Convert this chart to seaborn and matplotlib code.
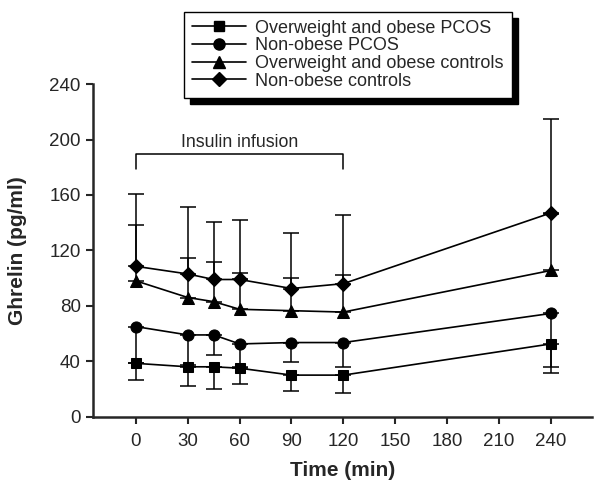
import numpy as np
import pandas as pd
import seaborn as sns
import matplotlib
matplotlib.use("Agg")
import matplotlib.pyplot as plt

# ---- data ----
time = [0, 30, 45, 60, 90, 120, 240]
series_names = ["Overweight and obese PCOS", "Non-obese PCOS",
                "Overweight and obese controls", "Non-obese controls"]
ow_pcos = [38.5, 36, 36, 35, 30, 30, 52.5]
ow_pcos_err_low = [26.5, 22, 20, 23.5, 18.5, 17, 31.5]
no_pcos = [65, 59, 59, 52.5, 53.5, 53.5, 74.5]
no_pcos_err_low = [39, 37, 44.5, 36, 39.5, 36, 35.5]
ow_ctrl = [98, 86, 83, 77.5, 76.5, 75.5, 105.5]
ow_ctrl_err_high = [138.5, 114.5, 111.5, 104, 100, 102, 146]
no_ctrl = [108.5, 103, 99, 99, 92.5, 96, 147]
no_ctrl_err_high = [160.5, 151.5, 140.5, 142, 132.5, 145.5, 215]
x_ticks = [0, 30, 60, 90, 120, 150, 180, 210, 240]
y_ticks = [0, 40, 80, 120, 160, 200, 240]

values = [ow_pcos, no_pcos, ow_ctrl, no_ctrl]
df = pd.DataFrame({
    "Time": time * 4,
    "Ghrelin": sum(values, []),
    "Group": sum([[n] * len(time) for n in series_names], []),
})

sns.set_theme(style="ticks")
plt.rcParams["font.family"] = ["Liberation Sans", "DejaVu Sans"]

fig = plt.figure(figsize=(5.94, 4.82), dpi=100)
ax = fig.add_axes([0.157, 0.1355, 0.84, 0.690])

marker_map = dict(zip(series_names, ["s", "o", "^", "D"]))
size_map = {"s": 7, "o": 8, "^": 9, "D": 7}

# error bars (one-sided)
k = dict(fmt="none", ecolor="black", elinewidth=1.1, capsize=5.5, capthick=1.1, zorder=2)
ax.errorbar(time, ow_pcos, yerr=[np.array(ow_pcos) - np.array(ow_pcos_err_low), np.zeros(len(time))], **k)
ax.errorbar(time, no_pcos, yerr=[np.array(no_pcos) - np.array(no_pcos_err_low), np.zeros(len(time))], **k)
ax.errorbar(time, ow_ctrl, yerr=[np.zeros(len(time)), np.array(ow_ctrl_err_high) - np.array(ow_ctrl)], **k)
ax.errorbar(time, no_ctrl, yerr=[np.zeros(len(time)), np.array(no_ctrl_err_high) - np.array(no_ctrl)], **k)

handles = []
for name in series_names:
    sub = df[df["Group"] == name]
    m = marker_map[name]
    sns.lineplot(data=sub, x="Time", y="Ghrelin", ax=ax, color="black",
                 marker=m, markersize=size_map[m], markeredgecolor="black",
                 linewidth=1.2, legend=False, zorder=3)
    handles.append(plt.Line2D([], [], color="black", marker=m,
                              markersize=size_map[m], linewidth=1.2))

# insulin infusion bracket
ax.plot([0, 0, 120, 120], [178.5, 189.5, 189.5, 178.5], color="black", lw=1.1, clip_on=False)
ax.text(60, 192, "Insulin infusion", ha="center", va="bottom", fontsize=12.8)

ax.set_xlim(-24.7, 264)
ax.set_ylim(0, 240)
ax.set_xticks(x_ticks)
ax.set_yticks(y_ticks)
ax.tick_params(direction="out", length=5, width=1.5, labelsize=13.5, pad=4)
ax.tick_params(axis="x", pad=7)
for s in ["top", "right"]:
    ax.spines[s].set_visible(False)
for s in ["left", "bottom"]:
    ax.spines[s].set_linewidth(1.8)
ax.set_xlabel("Time (min)", fontsize=15, fontweight="bold", labelpad=8)
ax.set_ylabel("Ghrelin (pg/ml)", fontsize=15, fontweight="bold", labelpad=16)

leg = fig.legend(handles, series_names, loc="upper right",
                 bbox_to_anchor=(512 / 594, 1 - 11.5 / 482),
                 frameon=True, fancybox=False, edgecolor="black",
                 framealpha=1, fontsize=13, handlelength=3.0,
                 handletextpad=0.5, labelspacing=0.04, borderpad=0.45,
                 borderaxespad=0,
                 shadow={"ox": 4.5, "oy": -4.5, "color": "black", "alpha": 1})
leg.get_frame().set_linewidth(1.0)

fig.savefig("out.png", dpi=100)
